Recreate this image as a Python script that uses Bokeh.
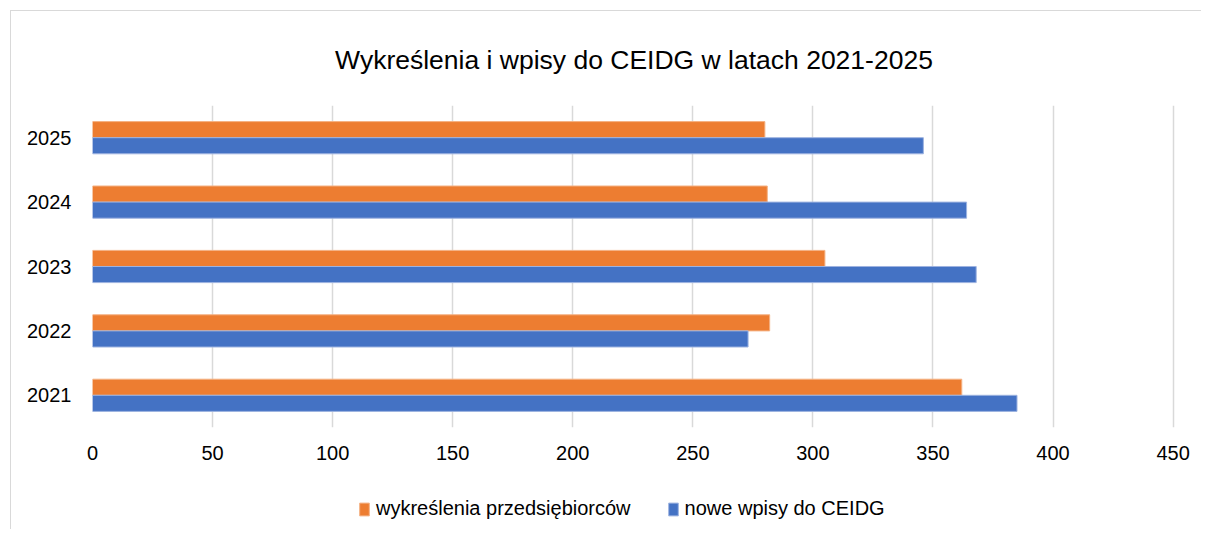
from bokeh.plotting import figure
from bokeh.models import FactorRange, Range1d, Legend, LegendItem, FixedTicker, ColumnDataSource
from bokeh.layouts import column
from bokeh.transform import dodge
from bokeh.embed import file_html
from bokeh.resources import INLINE

years = ["2021", "2022", "2023", "2024", "2025"]
wykreslenia = [362, 282, 305, 281, 280]
nowe_wpisy = [385, 273, 368, 364, 346]
x_ticks = [0, 50, 100, 150, 200, 250, 300, 350, 400, 450]
series_names = ["wykreślenia przedsiębiorców", "nowe wpisy do CEIDG"]
series_colors = ["#ED7D31", "#4472C4"]
edge_colors = ["#F4B183", "#9DB3E0"]

FONT = "Liberation Sans"

src = ColumnDataSource(dict(year=years, w=wykreslenia, n=nowe_wpisy))

p = figure(width=1190, height=464, y_range=FactorRange(factors=years, range_padding=0),
           x_range=Range1d(0, 451), output_backend="svg", toolbar_location=None,
           min_border_left=81, min_border_right=26, min_border_top=89, min_border_bottom=48,
           title="Wykreślenia i wpisy do CEIDG w latach 2021-2025")

p.title.align = "center"
p.title.text_font = FONT
p.title.text_font_size = "26.5px"
p.title.text_font_style = "normal"
p.title.text_color = "#000000"
p.title.standoff = 62

p.hbar(y=dodge("year", 0.125, range=p.y_range), right="w", height=0.25, source=src,
       fill_color=series_colors[0], line_color=edge_colors[0], line_width=1)
p.hbar(y=dodge("year", -0.125, range=p.y_range), right="n", height=0.25, source=src,
       fill_color=series_colors[1], line_color=edge_colors[1], line_width=1)

p.outline_line_color = None
p.ygrid.grid_line_color = None
p.xgrid.grid_line_color = "#d9d9d9"
p.xgrid.grid_line_width = 1.5
p.xaxis.ticker = FixedTicker(ticks=x_ticks)

for ax in (p.xaxis[0], p.yaxis[0]):
    ax.axis_line_color = None
    ax.major_tick_line_color = None
    ax.minor_tick_line_color = None
    ax.major_tick_out = 0
    ax.major_tick_in = 0
    ax.major_label_text_font = FONT
    ax.major_label_text_font_size = "20px"
    ax.major_label_text_color = "#000000"
p.xaxis.major_label_standoff = 18
p.yaxis.major_label_standoff = 21

# legend strip below the chart
lg = figure(width=1190, height=54, x_range=Range1d(0, 1), y_range=Range1d(0, 1),
            output_backend="svg", toolbar_location=None,
            min_border_left=0, min_border_right=0, min_border_top=0, min_border_bottom=0)
lg.axis.visible = False
lg.grid.visible = False
lg.outline_line_color = None
items = []
for name, col, edge in zip(series_names, series_colors, edge_colors):
    r = lg.hbar(y=[-10], right=[-10], left=[-11], height=0.25,
                fill_color=col, line_color=edge, line_width=1)
    items.append(LegendItem(label=name, renderers=[r]))

legend = Legend(items=items, orientation="horizontal", location=(266, 9),
                label_text_font=FONT, label_text_font_size="20px", label_text_color="#000000",
                glyph_width=12, glyph_height=16, label_standoff=6, spacing=36,
                border_line_color=None, background_fill_alpha=0, margin=0, padding=0)
lg.add_layout(legend, "center")

layout = column(p, lg, spacing=0)
layout.styles = {"margin-left": "10px", "margin-top": "10px",
                 "border-left": "1px solid #d9d9d9", "border-top": "1px solid #d9d9d9"}
open("out.html", "w").write(file_html(layout, INLINE))
